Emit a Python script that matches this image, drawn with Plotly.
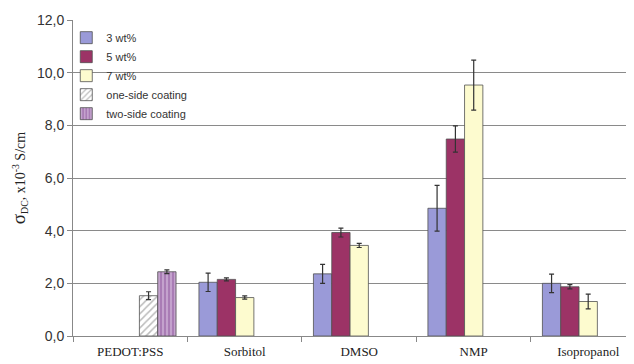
import plotly.graph_objects as go

categories = ["PEDOT:PSS", "Sorbitol", "DMSO", "NMP", "Isopropanol"]

wt3 = [None, 2.04, 2.36, 4.85, 2.00]
wt3_err = [None, 0.35, 0.36, 0.87, 0.35]
wt5 = [None, 2.15, 3.93, 7.48, 1.87]
wt5_err = [None, 0.06, 0.17, 0.50, 0.08]
wt7 = [None, 1.46, 3.44, 9.53, 1.31]
wt7_err = [None, 0.06, 0.08, 0.95, 0.28]
one_side = [1.53, None, None, None, None]
one_side_err = [0.15, None, None, None, None]
two_side = [2.44, None, None, None, None]
two_side_err = [0.07, None, None, None, None]

fig = go.Figure()

def err(arr):
    return dict(type="data", array=arr, color="#333333", thickness=1.2, width=2.5, visible=True)

outline = dict(color="#505050", width=0.8)

fig.add_trace(go.Bar(name="3 wt%", x=categories, y=wt3, error_y=err(wt3_err),
                     marker=dict(color="#9a9ad8", line=outline)))
fig.add_trace(go.Bar(name="5 wt%", x=categories, y=wt5, error_y=err(wt5_err),
                     marker=dict(color="#9c3366", line=outline)))
fig.add_trace(go.Bar(name="7 wt%", x=categories, y=wt7, error_y=err(wt7_err),
                     marker=dict(color="#fdfbcf", line=outline)))
fig.add_trace(go.Bar(name="one-side coating", x=categories, y=one_side, error_y=err(one_side_err),
                     marker=dict(color="white", line=outline,
                                 pattern=dict(shape="/", fgcolor="#777777", bgcolor="white", size=5, solidity=0.3))))
fig.add_trace(go.Bar(name="two-side coating", x=categories, y=two_side, error_y=err(two_side_err),
                     marker=dict(color="#b58cc0", line=outline,
                                 pattern=dict(shape="|", fgcolor="#ecdcf0", bgcolor="#a97cb5", size=4, solidity=0.4))))

fig.add_shape(type="rect", xref="paper", yref="y", x0=(89 - 73) / 561, x1=(200 - 73) / 561,
              y0=9.8, y1=10.2, fillcolor="white", line=dict(width=0), layer="between")

fig.update_layout(
    width=626, height=356,
    margin=dict(l=65, r=0, t=12, b=28),
    paper_bgcolor="white", plot_bgcolor="white",
    separators=",.",
    barmode="group", bargap=0.2, bargroupgap=0,
    font=dict(family="Liberation Sans, Arial", color="#333333"),
    showlegend=True,
    legend=dict(x=-0.012, y=0.99, xanchor="left", yanchor="top",
                bgcolor="rgba(0,0,0,0)", font=dict(size=11, color="#333333"),
                itemwidth=30, tracegroupgap=0),
    xaxis=dict(range=[-0.5, 4.4], showline=True, linecolor="#888888", linewidth=1,
               ticks="outside", tickson="boundaries", ticklen=5, tickcolor="#888888",
               ticklabelstandoff=3,
               tickfont=dict(family="Liberation Serif, Times New Roman", size=13, color="#222222"),
               showgrid=False),
    yaxis=dict(range=[0, 12], dtick=2, tickformat=".1f", showline=True, linecolor="#888888",
               ticks="outside", ticklen=5, tickcolor="#888888",
               showgrid=True, gridcolor="#8a8a8a", gridwidth=1,
               tickfont=dict(family="Liberation Sans, Arial", size=14, color="#333333"),
               title=dict(text="<span style='font-size:19px'>σ</span><sub>DC</sub>, x10<sup>-3</sup> S/cm",
                          font=dict(family="Liberation Serif, Times New Roman", size=14, color="#222222"),
                          standoff=12)),
)

fig.write_html("out.html")
